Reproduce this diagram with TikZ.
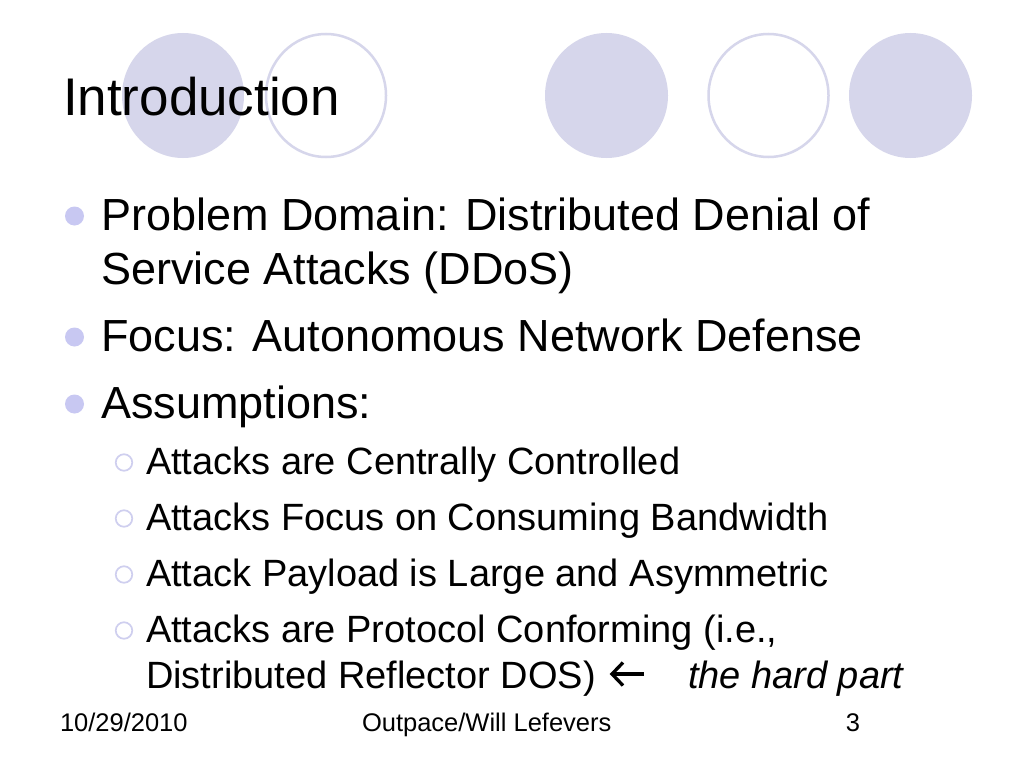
\documentclass[tikz,border=0pt]{standalone}
\usepackage{fontspec}
\setmainfont{Liberation Sans}
\definecolor{lav}{HTML}{D6D6EB}
\definecolor{bul}{HTML}{C8C8F2}
\definecolor{ringc}{HTML}{CFCFEF}
\newcommand\myTitleFont{\fontsize{53}{64}\selectfont}
\newcommand\myOneFont{\fontsize{45}{54}\selectfont}
\newcommand\myTwoFont{\fontsize{38}{46}\selectfont}
\newcommand\myFootFont{\fontsize{25.5}{30}\selectfont}
\begin{document}
\begin{tikzpicture}[x=1pt,y=-1pt,
  disc/.style={fill=lav,draw=none},
  ring/.style={draw=lav,line width=2.5pt,fill=white},
  txt/.style={anchor=base west,inner sep=0pt,outer sep=0pt},
  title/.style={txt,font=\myTitleFont},
  lvone/.style={txt,font=\myOneFont},
  lvtwo/.style={txt,font=\myTwoFont},
  foot/.style={txt,font=\myFootFont},
  arrowglyph/.style={line width=3.3pt,line cap=butt,line join=miter},
  dotbullet/.style={circle,fill=bul,draw=none,minimum size=19pt,inner sep=0pt},
  ringbullet/.style={circle,draw=ringc,line width=1.7pt,fill=white,minimum size=16.5pt,inner sep=0pt}]
\fill[white] (0,0) rectangle (1024,768);
\useasboundingbox (0,0) rectangle (1024,768);
% decorative circles
\fill[disc] (183,95.5) ellipse [x radius=61, y radius=62.5];
\draw[ring] (326,95.5) ellipse [x radius=60, y radius=61.5];
\fill[disc] (606.5,95.5) ellipse [x radius=61.5, y radius=62.5];
\draw[ring] (768.5,95.5) ellipse [x radius=60, y radius=61.5];
\fill[disc] (910.5,95.5) ellipse [x radius=61.5, y radius=62.5];
% title
\node[title] (ttl) at (63,115) {Introduction};
% level one
\node[dotbullet] (b1) at (74.5,216) {};
\node[lvone] (p1a) at (101,230) {Problem Domain: Distributed Denial of};
\node[lvone] (p1b) at (101,284) {Service Attacks (DDoS)};
\node[dotbullet] (b2) at (74.5,337) {};
\node[lvone] (p2) at (101,351) {Focus: Autonomous Network Defense};
\node[dotbullet] (b3) at (74.5,404) {};
\node[lvone] (p3) at (101,418) {Assumptions:};
% level two
\node[ringbullet] (s1b) at (124,462.5) {};
\node[lvtwo] (s1) at (146,474.5) {Attacks are Centrally Controlled};
\node[ringbullet] (s2b) at (124,518.5) {};
\node[lvtwo] (s2) at (146,530.5) {Attacks Focus on Consuming Bandwidth};
\node[ringbullet] (s3b) at (124,574.5) {};
\node[lvtwo] (s3) at (146,586.5) {Attack Payload is Large and Asymmetric};
\node[ringbullet] (s4b) at (124,630.5) {};
\node[lvtwo] (s4a) at (146,642.5) {Attacks are Protocol Conforming (i.e.,};
\node[lvtwo] (s4c) at (146,688.5) {Distributed Reflector DOS)};
% left arrow
\coordinate (arrTail) at (644,674);
\coordinate (arrTip) at (612,674);
\coordinate (arrUp) at (623,662.5);
\coordinate (arrDn) at (623,685.5);
\draw[arrowglyph] (arrTail) -- (arrTip);
\draw[arrowglyph] (arrUp) -- (arrTip) -- (arrDn);
\node[lvtwo] (hard) at (688,688.5) {\itshape the hard part};
% footer
\node[foot] (date) at (60,731) {10/29/2010};
\node[foot] (auth) at (362,731) {Outpace/Will Lefevers};
\node[foot,anchor=base east] (pg) at (860,731) {3};
\end{tikzpicture}
\end{document}
